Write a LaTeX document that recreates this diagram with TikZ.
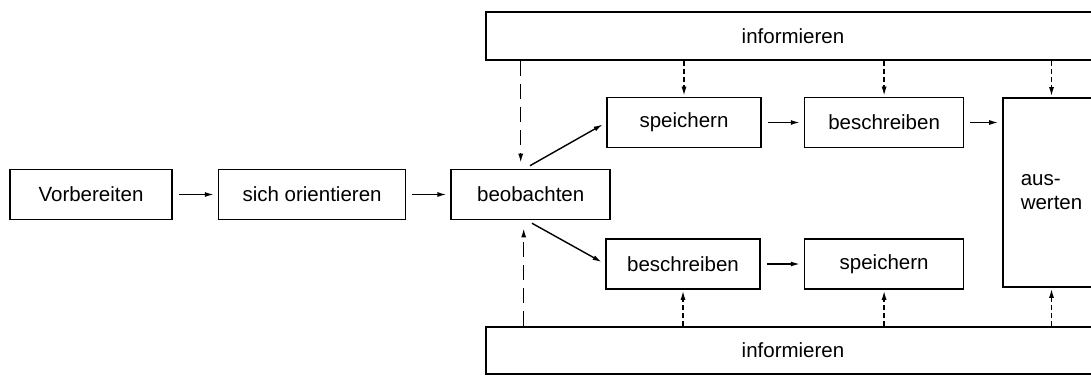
\documentclass[tikz,border=0pt]{standalone}
\usepackage{fontspec}
\setmainfont{Liberation Sans}
\usetikzlibrary{arrows.meta,positioning}

\begin{document}
\begin{tikzpicture}[x=1pt,y=-1pt,
  node distance=44pt and 44pt, font=\fontsize{20.5}{24}\selectfont,
  box/.style={draw,line width=1.6pt,minimum height=50pt,inner sep=0pt,align=center},
  arr/.style={-{Latex[length=9pt,width=5pt]},line width=1.4pt,shorten <=6pt,shorten >=4pt},
  darr/.style={arr,dash pattern=on 5pt off 3pt,shorten <=0pt,shorten >=1pt},
  ldarr/.style={darr,dash pattern=on 15pt off 8pt}]
\useasboundingbox (0,0) rectangle (1091,376);
\node[box,minimum width=162pt](vorb) at (91,194.5){Vorbereiten};
\node[box,minimum width=187pt,right=45pt of vorb](orient){sich orientieren};
\node[box,minimum width=159pt,right=44pt of orient](beob){beobachten};
\node[box,minimum width=154pt](speichO) at (684,122.5){speichern};
\node[box,minimum width=159pt,right=42pt of speichO](beschrO){beschreiben};
\node[box,minimum width=154pt](beschrU) at (683,264){beschreiben};
\node[box,minimum width=159pt,right=43pt of beschrU](speichU){speichern};
\node[box,minimum width=97pt,minimum height=189pt,align=left](ausw) at (1051.5,192.5){aus-\\werten};
\node[box,minimum width=614pt,minimum height=48pt](infoO) at (793,36){informieren};
\node[box,minimum width=614pt,minimum height=47pt](infoU) at (793,350.5){informieren};
\coordinate (beobO) at ([xshift=-10pt]beob.north);
\coordinate (beobU) at ([xshift=-7pt]beob.south);
% Hauptkette
\draw[arr](vorb)--(orient);
\draw[arr](orient)--(beob);
\draw[arr]([xshift=-6pt]beob.north)--(speichO.west);
\draw[arr]([xshift=-4pt]beob.south)--(beschrU.west);
\draw[arr](speichO)--(beschrO);
\draw[arr](beschrO.east)--(beschrO.east -| ausw.west);
\draw[arr](beschrU)--(speichU);
% informieren
\draw[ldarr,shorten >=6pt](infoO.south -| beobO)--(beobO);
\draw[darr](infoO.south -| speichO)--(speichO);
\draw[darr](infoO.south -| beschrO)--(beschrO);
\draw[darr](infoO.south -| ausw)--(ausw);
\draw[ldarr,shorten >=8pt](infoU.north -| beobU)--(beobU);
\draw[darr](infoU.north -| beschrU)--(beschrU);
\draw[darr](infoU.north -| speichU)--(speichU);
\draw[darr](infoU.north -| ausw)--(ausw);
\end{tikzpicture}
\end{document}
